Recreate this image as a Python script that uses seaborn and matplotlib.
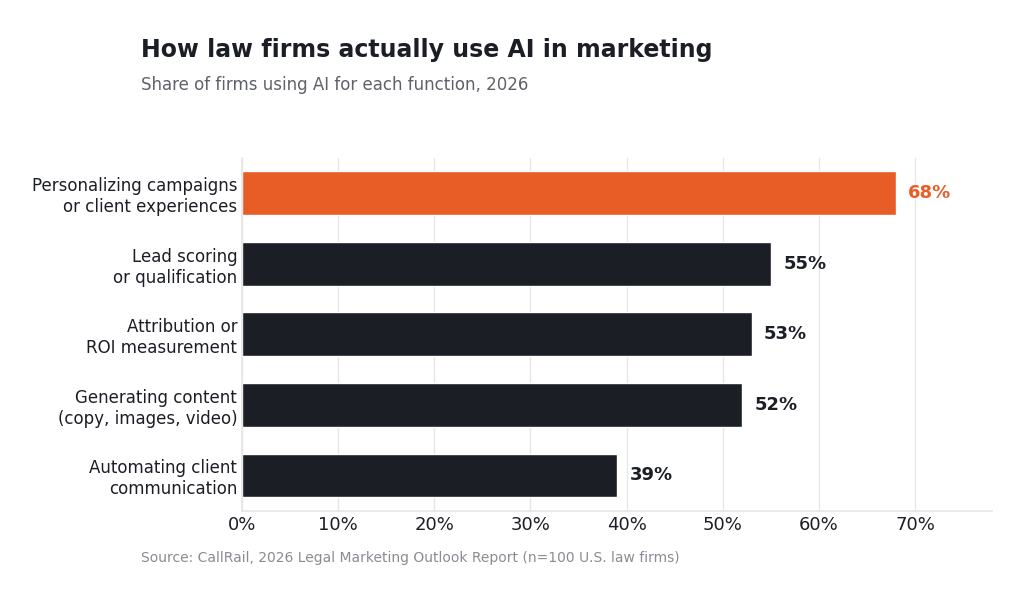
import matplotlib
matplotlib.use("Agg")
import matplotlib.pyplot as plt
import seaborn as sns
import pandas as pd

categories = ["Personalizing campaigns\nor client experiences", "Lead scoring\nor qualification",
              "Attribution or\nROI measurement", "Generating content\n(copy, images, video)",
              "Automating client\ncommunication"]
values = [68, 55, 53, 52, 39]
colors = ["#E85D26", "#1C1E25", "#1C1E25", "#1C1E25", "#1C1E25"]
ticks = [0, 10, 20, 30, 40, 50, 60, 70]

sns.set_theme(style="white")
plt.rcParams['font.family'] = ['DejaVu Sans']
fig = plt.figure(figsize=(10.3, 6.03), dpi=100)
ax = fig.add_axes([0.235, 0.153, 0.728, 0.585])
df = pd.DataFrame({"cat": categories, "val": values})
sns.barplot(data=df, x="val", y="cat", hue="cat", palette=colors, legend=False, ax=ax, width=0.62, saturation=1)
ax.set_xlim(0, 78)
ax.set_xticks(ticks)
ax.set_xticklabels([f"{t}%" for t in ticks], fontsize=13, color="#1C1E25")
ax.tick_params(axis="y", labelsize=12, colors="#1C1E25", length=0)
ax.tick_params(axis="x", length=0)
ax.set_xlabel(""); ax.set_ylabel("")
ax.grid(axis="x", color="#E6E6E6", linewidth=1)
ax.set_axisbelow(True)
for s in ["top", "right"]:
    ax.spines[s].set_visible(False)
ax.spines["left"].set_color("#E6E6E6")
ax.spines["bottom"].set_color("#E6E6E6")
for i, (v, c) in enumerate(zip(values, colors)):
    ax.text(v + 1.3, i, f"{v}%", va="center", ha="left", fontsize=13, fontweight="bold", color=c)
fig.text(0.137, 0.917, "How law firms actually use AI in marketing", fontsize=17, fontweight="bold", color="#1C1E25", va="center")
fig.text(0.137, 0.859, "Share of firms using AI for each function, 2026", fontsize=12, color="#5F6168", va="center")
fig.text(0.137, 0.075, "Source: CallRail, 2026 Legal Marketing Outlook Report (n=100 U.S. law firms)", fontsize=10, color="#8A8C93", va="center")
fig.savefig("out.png", dpi=100)
